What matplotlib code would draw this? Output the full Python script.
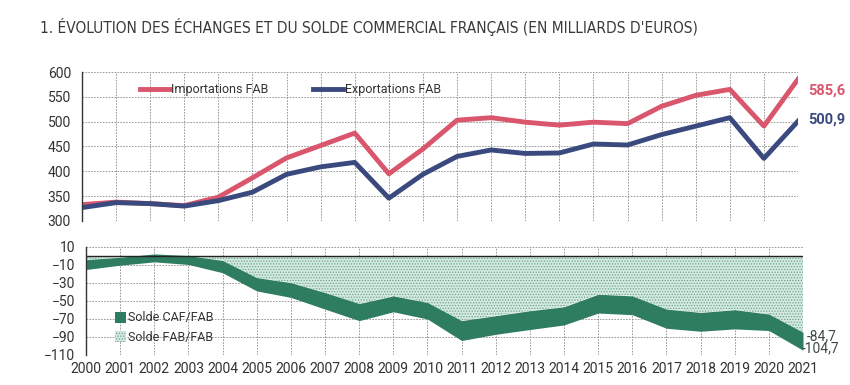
import matplotlib
matplotlib.use("agg")
import matplotlib.pyplot as plt

years = list(range(2000, 2022))
importations = [333, 338, 335, 331, 348, 387, 427, 452, 477, 395, 445, 503, 508, 499, 493, 499, 496, 531, 553, 565, 491, 585.6]
exportations = [327, 337, 335, 330, 341, 358, 394, 409, 418, 346, 394, 430, 443, 436, 437, 455, 453, 474, 491, 508, 426, 500.9]
solde_fab = [-4, -1.4, 2.3, 0.5, -5, -24, -29.6, -40.6, -52.8, -44.3, -51.6, -71.8, -66.3, -60.8, -56.4, -42.5, -44.3, -59, -62.7, -59.7, -64.5, -84.7]
solde_caf = [-15, -10.2, -6.5, -9.4, -18.6, -38.8, -46, -59, -71.8, -62, -70, -93.9, -87, -81.7, -76.6, -63.4, -65.2, -80.3, -83.6, -81, -82.8, -104.7]

red = "#d9566c"
blue = "#3a4a7e"
green = "#2f7d60"
txt = "#333333"

plt.rcParams["font.family"] = ["Roboto", "DejaVu Sans"]
plt.rcParams["hatch.color"] = "#5f9c83"
plt.rcParams["hatch.linewidth"] = 0.6

fig = plt.figure(figsize=(8.5, 3.85), dpi=100)
fig.patch.set_facecolor("white")

fig.text(40/850, 1-27/385, "1. ÉVOLUTION DES ÉCHANGES ET DU SOLDE COMMERCIAL FRANÇAIS (EN MILLIARDS D'EUROS)",
         fontsize=11.1, color="#3a3a3a", va="center", ha="left",
         family="DejaVu Sans", fontstretch="condensed")

# echanges
ax1 = fig.add_axes([82/850, 1-221/385, 716/850, 149/385])
ax1.plot(years, importations, color=red, lw=3.5, label="Importations FAB")
ax1.plot(years, exportations, color=blue, lw=3.5, label="Exportations FAB")
ax1.set_xlim(2000, 2021)
ax1.set_ylim(300, 600)
ax1.set_yticks(range(300, 601, 50))
ax1.set_xticks(years)
ax1.tick_params(axis="x", length=0, labelbottom=False)
ax1.tick_params(axis="y", length=0, labelsize=10, colors=txt, pad=8)
ax1.grid(True, color="#8c8c8c", ls=(0, (2, 1.5)), lw=0.6)
for s in ["top", "right", "bottom"]:
    ax1.spines[s].set_visible(False)
ax1.spines["left"].set_color("#333333")
ax1.spines["left"].set_linewidth(1.0)
ax1.legend(loc="upper left", bbox_to_anchor=(0.065, 1.0), ncol=2, frameon=False,
           fontsize=9, handlelength=2.4, handletextpad=0.1, columnspacing=3.6,
           labelcolor=txt)
ax1.text(2021.3, 562, "585,6", color=red, fontsize=10.5, fontweight="bold", va="center")
ax1.text(2021.3, 504, "500,9", color=blue, fontsize=10.5, fontweight="bold", va="center")

# solde
ax2 = fig.add_axes([86/850, 1-355/385, 717/850, 108/385])
ax2.fill_between(years, 0, solde_fab, where=[v <= 0.5 for v in solde_fab], interpolate=True,
                 facecolor="#d4e9df", hatch="......", edgecolor="#6aa58c", lw=0,
                 label="Solde FAB/FAB")
ax2.fill_between(years, solde_fab, solde_caf, color=green, lw=0, label="Solde CAF/FAB")
ax2.axhline(0, color="#222222", lw=1.0)
ax2.set_xlim(2000, 2021)
ax2.set_ylim(-110, 10)
ax2.set_yticks(range(10, -111, -20))
ax2.set_xticks(years)
ax2.tick_params(axis="x", length=0, labelsize=10, colors=txt, pad=5)
ax2.tick_params(axis="y", length=0, labelsize=10, colors=txt, pad=8)
ax2.grid(True, color="#8c8c8c", ls=(0, (2, 1.5)), lw=0.6)
ax2.set_axisbelow(True)
for s in ["top", "right", "bottom"]:
    ax2.spines[s].set_visible(False)
ax2.spines["left"].set_color("#333333")
ax2.spines["left"].set_linewidth(1.0)
h, l = ax2.get_legend_handles_labels()
ax2.legend([h[1], h[0]], [l[1], l[0]], loc="lower left", bbox_to_anchor=(0.025, 0.0), frameon=False,
           fontsize=9, handlelength=0.9, handleheight=1.0, handletextpad=0.15,
           labelspacing=0.5, labelcolor=txt)
ax2.text(2021.1, solde_fab[-1] - 4, "-84,7", color="#3c4a46", fontsize=10, va="center")
ax2.text(2020.95, solde_caf[-1] + 2, "-104,7", color="#3c4a46", fontsize=10, va="center")

fig.savefig("out.png", dpi=100, facecolor="white")
